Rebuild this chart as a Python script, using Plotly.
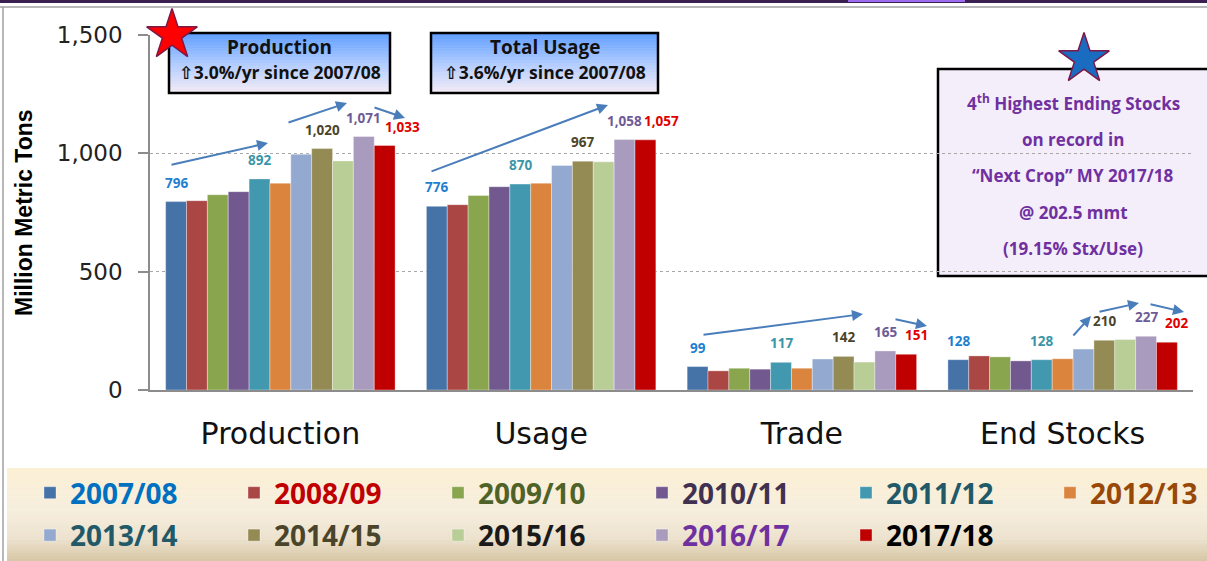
import plotly.graph_objects as go

# ---------------- data ----------------
categories = ["Production", "Usage", "Trade", "End Stocks"]
years = ["2007/08", "2008/09", "2009/10", "2010/11", "2011/12", "2012/13",
         "2013/14", "2014/15", "2015/16", "2016/17", "2017/18"]
production = [796, 800, 825, 838, 892, 874, 996, 1020, 968, 1071, 1033]
usage = [776, 783, 822, 859, 870, 874, 949, 967, 964, 1058, 1057]
trade = [99, 81, 92, 88, 117, 92, 131, 142, 118, 165, 151]
end_stocks = [128, 144, 140, 123, 128, 132, 173, 210, 213, 227, 202]
labeled_years = ["2007/08", "2011/12", "2014/15", "2016/17", "2017/18"]

y_ticks = [0, 500, 1000, 1500]
box_titles = ["Production", "Total Usage"]
box_notes = ["⇧3.0%/yr since 2007/08", "⇧3.6%/yr since 2007/08"]
stocks_note = ["4<sup>th</sup> Highest Ending Stocks", "on record in",
               "“Next Crop” MY 2017/18", "@ 202.5 mmt", "(19.15% Stx/Use)"]

# ---------------- styles ----------------
bar_colors = ["#4572A7", "#AA4643", "#89A54E", "#71588F", "#4198AF", "#DB843D",
              "#93A9CF", "#948A54", "#B9CD96", "#A99BBD", "#C00000"]
legend_text_colors = ["#0070C0", "#C00000", "#4F6228", "#403151", "#215968", "#984807",
                      "#215968", "#4A452A", "#1A1A1A", "#7030A0", "#000000"]
label_colors = {"2007/08": "#1F7FD0", "2011/12": "#3A95A8", "2014/15": "#4A452A",
                "2016/17": "#6E5A96", "2017/18": "#E00000"}
red_xshift = [18, 16, 10, 10]

W, H = 1207, 561
L, R, T, B = 150, 1193, 35, 390
BARGAP = 0.12


def px(x):
    return (x - L) / (R - L)


def py(y):
    return (B - y) / (B - T)


series = [production, usage, trade, end_stocks]

fig = go.Figure()
for i, yr in enumerate(years):
    col = i % 6
    fig.add_trace(go.Bar(
        x=categories,
        y=[s[i] for s in series],
        name=f'<span style="color:{legend_text_colors[i]}">{yr}</span>',
        marker=dict(color=bar_colors[i], line=dict(width=0.6, color="rgba(255,255,255,0.6)")),
        legend="legend" if col == 0 else f"legend{col + 1}",
        legendgroup=yr,
        hoverinfo="skip",
    ))

# overlay pixel-like axes for decorative stars
fig.add_trace(go.Scatter(
    x=[172, 638, 1084], y=[35, 31, 59], xaxis="x2", yaxis="y2", mode="markers",
    marker=dict(symbol="star", size=[38, 42, 38], opacity=1,
                color=["#FF0000", "#B0145C", "#1A6CC0"],
                line=dict(color="#7E1848", width=1.5)),
    cliponaxis=False, showlegend=False, hoverinfo="skip"))

annotations = []
# data labels
n = len(years)
for c, cat in enumerate(categories):
    for i, yr in enumerate(years):
        if yr not in labeled_years:
            continue
        off = -(1 - BARGAP) / 2 + (i + 0.5) * (1 - BARGAP) / n
        annotations.append(dict(
            x=c + off, y=series[c][i], xref="x", yref="y",
            xanchor="center", yanchor="middle",
            text=f"<b>{series[c][i]:,}</b>", showarrow=False,
            yshift=19, xshift=red_xshift[c] if yr == "2017/18" else 0,
            font=dict(family="Open Sans, DejaVu Sans, sans-serif", size=13.5,
                      color=label_colors[yr])))


def note(x, y, text, size, color, family="Open Sans, DejaVu Sans, sans-serif", angle=0):
    return dict(x=px(x), y=py(y), xref="paper", yref="paper", xanchor="center",
                yanchor="middle", text=text, showarrow=False, textangle=angle,
                font=dict(family=family, size=size, color=color))


# y-axis title
annotations.append(note(24, 213, "<b>Million Metric Tons</b>", 23, "#000",
                        "Liberation Sans, Arial, sans-serif", -90))

# info boxes text
for k, cx in enumerate([279.5, 544.5]):
    annotations.append(note(cx, 47, f"<b>{box_titles[k]}</b>", 19, "#111"))
    annotations.append(note(cx, 72, f"<b>{box_notes[k]}</b>", 17.5, "#111"))

for k, yy in enumerate([103, 139, 175, 212, 248]):
    annotations.append(note(1073, yy, f"<b>{stocks_note[k]}</b>", 17, "#7030A0"))

# trend arrows (tail -> head, pixel positions)
arrows = [((170, 165), (268, 143)), ((287, 123), (347, 103)), ((373, 107), (405, 118)),
          ((430, 172), (608, 105)), ((702, 335), (863, 314)), ((894, 319), (927, 326)),
          ((1072, 337), (1091, 316)), ((1098, 312), (1139, 303)), ((1149, 304), (1184, 312))]
for (tx, ty), (hx, hy) in arrows:
    annotations.append(dict(x=px(hx), y=py(hy), xref="paper", yref="paper",
                            ax=tx - hx, ay=ty - hy, text="", showarrow=True,
                            arrowhead=2, arrowsize=1.1, arrowwidth=2, arrowcolor="#4A7EBB",
                            standoff=0, startstandoff=0))

shapes = []


def grad_strips(x0, x1, y0, y1, stops, nstrip, layer):
    out = []
    h = (y1 - y0) / nstrip
    for s in range(nstrip):
        t = (s + 0.5) / nstrip
        for j in range(len(stops) - 1):
            if stops[j][0] <= t <= stops[j + 1][0]:
                a, b = stops[j], stops[j + 1]
                f = (t - a[0]) / (b[0] - a[0])
                rgb = [round(a[1][q] + f * (b[1][q] - a[1][q])) for q in range(3)]
                break
        out.append(dict(type="rect", xref="paper", yref="paper",
                        x0=px(x0), x1=px(x1), y0=py(y0 + s * h), y1=py(y0 + (s + 1) * h + 0.6),
                        fillcolor=f"rgb({rgb[0]},{rgb[1]},{rgb[2]})", line=dict(width=0),
                        layer=layer))
    return out


# legend background gradient
shapes += grad_strips(7, 1210, 468, 562,
                      [(0, (252, 240, 212)), (0.45, (246, 238, 222)), (0.75, (236, 226, 206)),
                       (1, (214, 197, 163))], 30, "below")
# info boxes
for x0, x1 in [(169, 390), (431, 658)]:
    shapes += grad_strips(x0, x1, 33, 93,
                          [(0, (96, 158, 255)), (0.5, (175, 203, 255)), (1, (246, 236, 246))],
                          20, "between")
    shapes.append(dict(type="rect", xref="paper", yref="paper", x0=px(x0), x1=px(x1),
                       y0=py(33), y1=py(93), line=dict(color="#000", width=2.5), layer="between"))
# right text box
shapes.append(dict(type="rect", xref="paper", yref="paper", x0=px(938), x1=px(1215),
                   y0=py(69), y1=py(276), fillcolor="#F4EEFA",
                   line=dict(color="#000", width=2.5), layer="between"))
# frame
shapes.append(dict(type="rect", xref="paper", yref="paper", x0=px(0), x1=px(1207),
                   y0=py(0), y1=py(3), fillcolor="#3A2050", line=dict(width=0)))
shapes.append(dict(type="rect", xref="paper", yref="paper", x0=px(848), x1=px(965),
                   y0=py(0), y1=py(2), fillcolor="#9B6CF0", line=dict(width=0)))
shapes.append(dict(type="line", xref="paper", yref="paper", x0=px(0), x1=px(1207),
                   y0=py(7), y1=py(7), line=dict(color="#A0A0A0", width=1.5)))
shapes.append(dict(type="line", xref="paper", yref="paper", x0=px(3), x1=px(3),
                   y0=py(7), y1=py(561), line=dict(color="#A0A0A0", width=1.5)))

layout_legends = {}
for col in range(6):
    key = "legend" if col == 0 else f"legend{col + 1}"
    layout_legends[key] = dict(
        x=px(30 + col * 204), xanchor="left", y=py(468), yanchor="top",
        orientation="v", bgcolor="rgba(0,0,0,0)", borderwidth=0,
        font=dict(family="Open Sans, sans-serif", size=28, weight="bold"),
        tracegroupgap=3, itemclick=False, itemdoubleclick=False)

fig.update_layout(
    width=W, height=H, autosize=False,
    margin=dict(l=L, r=W - R, t=T, b=H - B, pad=0, autoexpand=False),
    paper_bgcolor="white", plot_bgcolor="white",
    barmode="group", bargap=BARGAP, bargroupgap=0,
    xaxis=dict(type="category", range=[-0.5, 3.5], showline=True, linecolor="#8C8C8C",
               linewidth=2, ticks="", showgrid=False, ticklabelstandoff=16,
               tickfont=dict(family="DejaVu Sans, sans-serif", size=30, color="#111")),
    yaxis=dict(range=[0, 1500], tickvals=y_ticks, ticktext=[f"{v:,}" for v in y_ticks],
               showline=True, linecolor="#8C8C8C", linewidth=1.5, ticks="outside",
               ticklen=10, tickcolor="#8C8C8C", tickwidth=1.5,
               showgrid=True, gridcolor="#A8A8A8", griddash="dot", gridwidth=1,
               zeroline=False, ticklabelstandoff=11,
               tickfont=dict(family="DejaVu Sans, sans-serif", size=23, color="#222")),
    xaxis2=dict(overlaying="x", range=[L, R], visible=False, fixedrange=True),
    yaxis2=dict(overlaying="y", range=[B, T], visible=False, fixedrange=True),
    annotations=annotations, shapes=shapes, showlegend=True,
    **layout_legends,
)

fig.write_html("out.html", config={"displayModeBar": False},
               post_script="document.body.style.margin='0';document.body.style.overflow='hidden';")
